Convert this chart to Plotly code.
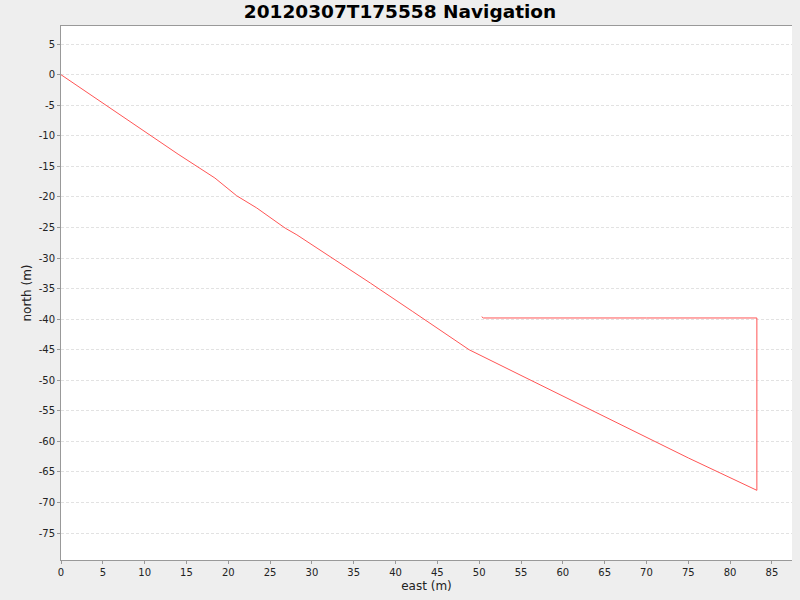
"""Navigation track plot, 20120307T175558."""

import plotly.graph_objects as go

TITLE = "20120307T175558 Navigation"

# track points (metres)
EAST = [0.0, 4.7, 9.5, 14.0, 18.4, 21.0, 23.4, 26.8, 28.2, 32.5,
        37.0, 42.0, 48.8, 55.0, 65.0, 75.0, 83.2, 83.2, 70.0, 60.0, 50.5, 50.3]
NORTH = [0.0, -4.4, -8.9, -13.0, -16.9, -19.8, -21.8, -25.1, -26.2, -30.0,
         -34.1, -38.7, -45.0, -49.2, -56.0, -62.7, -68.0, -39.8, -39.8, -39.8, -39.8, -39.6]

X_TICKS = list(range(0, 90, 5))
Y_TICKS = list(range(5, -80, -5))

FONT = "DejaVu Sans"


def main() -> None:
    fig = go.Figure()
    fig.add_trace(
        go.Scatter(
            x=EAST,
            y=NORTH,
            mode="lines",
            line={"color": "#FF5555", "width": 1},
            showlegend=False,
        )
    )
    fig.update_layout(
        width=800,
        height=600,
        paper_bgcolor="#EEEEEE",
        plot_bgcolor="#FFFFFF",
        margin={"l": 61, "r": 8, "t": 26, "b": 40, "autoexpand": False},
        font={"family": FONT, "size": 11, "color": "#333333"},
        title={
            "text": f"<b>{TITLE}</b>",
            "x": 0.5,
            "xanchor": "center",
            "y": 0.98,
            "yanchor": "middle",
            "font": {"family": FONT, "size": 18.5, "color": "#000000"},
        },
        xaxis={
            "range": [0, 87.4],
            "tickvals": X_TICKS,
            "ticktext": [str(v) for v in X_TICKS],
            "showgrid": False,
            "zeroline": False,
            "showline": True,
            "linecolor": "#999999",
            "linewidth": 1,
            "mirror": True,
            "ticks": "outside",
            "ticklen": 3,
            "tickcolor": "#999999",
            "tickfont": {"size": 10, "color": "#222222"},
            "automargin": False,
            "title": {"text": "east (m)", "font": {"size": 12, "color": "#222222"}, "standoff": 4},
        },
        yaxis={
            "range": [-79.4, 7.97],
            "tickvals": Y_TICKS,
            "ticktext": [str(v) for v in Y_TICKS],
            "showgrid": True,
            "gridcolor": "#E2E2E2",
            "griddash": "3px,2px",
            "gridwidth": 1,
            "zeroline": False,
            "showline": True,
            "linecolor": "#999999",
            "linewidth": 1,
            "ticks": "outside",
            "ticklen": 3,
            "tickcolor": "#999999",
            "tickfont": {"size": 10, "color": "#222222"},
            "automargin": False,
            "title": {"text": "north (m)", "font": {"size": 12, "color": "#222222"}, "standoff": 4},
        },
    )
    # the page body has a default 8px margin, which shifts the fixed-size figure
    fig.write_html(
        "out.html",
        config={"displayModeBar": False},
        post_script="document.body.style.margin = '0';",
    )


if __name__ == "__main__":
    main()
